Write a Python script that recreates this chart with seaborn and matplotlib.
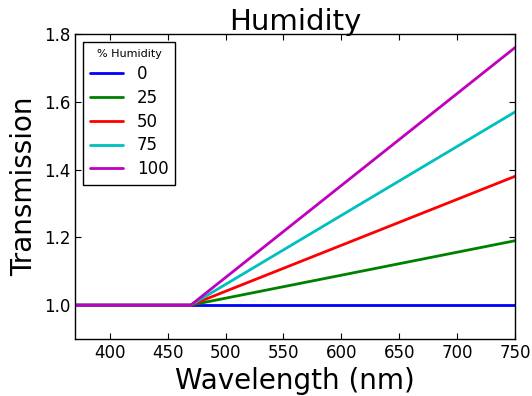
import pandas as pd
import matplotlib
matplotlib.use("Agg")
import matplotlib.pyplot as plt
import seaborn as sns

# wavelengths where the curves change slope
wavelength = [370, 470, 750]
humidity = [0, 25, 50, 75, 100]
# transmission at each wavelength for each humidity level
transmission = [
    [1.0, 1.0, 1.0],
    [1.0, 1.0, 1.19],
    [1.0, 1.0, 1.38],
    [1.0, 1.0, 1.57],
    [1.0, 1.0, 1.76],
]
colors = ["#0000ff", "#008000", "#ff0000", "#00bfbf", "#bf00bf"]

rows = []
for h, vals in zip(humidity, transmission):
    for w, t in zip(wavelength, vals):
        rows.append({"Wavelength": w, "Transmission": t, "Humidity": str(h)})
df = pd.DataFrame(rows)

sns.set_style("ticks")
plt.rcParams["font.family"] = ["DejaVu Sans"]
plt.rcParams.update({
    "text.color": "black", "axes.labelcolor": "black",
    "xtick.color": "black", "ytick.color": "black",
    "axes.edgecolor": "black",
})

fig = plt.figure(figsize=(5.32, 3.96), dpi=100)
ax = fig.add_axes([0.141, 0.144, 0.827, 0.770])

sns.lineplot(data=df, x="Wavelength", y="Transmission", hue="Humidity",
             palette=colors, linewidth=2, ax=ax, legend=True)

ax.set_xlim(370, 750)
ax.set_ylim(0.9, 1.8)
ax.set_xticks([400, 450, 500, 550, 600, 650, 700, 750])
ax.set_yticks([1.0, 1.2, 1.4, 1.6, 1.8])
ax.tick_params(direction="in", top=True, right=True, labelsize=12, length=4)
for s in ax.spines.values():
    s.set_visible(True)
    s.set_linewidth(1)

ax.set_title("Humidity", fontsize=21, pad=3)
ax.set_xlabel("Wavelength (nm)", fontsize=20)
ax.set_ylabel("Transmission", fontsize=20)

leg = ax.legend(title="% Humidity", loc="upper left", fontsize=12,
                title_fontsize=8, fancybox=False, edgecolor="black",
                handlelength=2, framealpha=1, labelspacing=0.35)
leg.get_frame().set_linewidth(1)

fig.savefig("out.png", dpi=100)
